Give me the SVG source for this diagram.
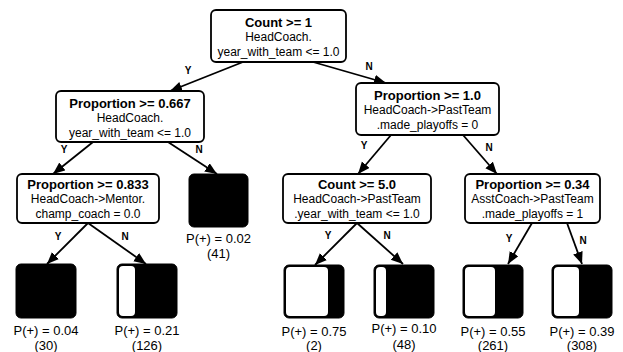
<svg xmlns="http://www.w3.org/2000/svg" width="623" height="352" viewBox="0 0 623 352">
<defs>
<style>
.box{fill:#fff;stroke:#000;stroke-width:1.8}
.b{font-family:"Liberation Sans",Arial,sans-serif;font-size:13px;font-weight:bold;text-anchor:middle;fill:#000}
.t{font-family:"Liberation Sans",Arial,sans-serif;font-size:12px;text-anchor:middle;fill:#000}
.p{font-family:"Liberation Sans",Arial,sans-serif;font-size:13px;text-anchor:middle;fill:#000}
.yn{font-family:"Liberation Sans",Arial,sans-serif;font-size:10px;font-weight:bold;text-anchor:middle;fill:#000}
.e{stroke:#000;stroke-width:1.8;fill:none;marker-end:url(#ah)}
.blk{fill:#000;stroke:#000;stroke-width:1}
.wht{fill:#fff}
</style>
<marker id="ah" markerUnits="userSpaceOnUse" markerWidth="14" markerHeight="12" refX="12" refY="5" orient="auto">
<path d="M0,0 L12,5 L0,10 Z" fill="#000"/>
</marker>
</defs>
<g id="connectors">
<path class="e" d="M243,62 L170,91"/>
<path class="e" d="M313,62 L386,83"/>
<path class="e" d="M93,142 L53,174"/>
<path class="e" d="M168,142 L217,174"/>
<path class="e" d="M391,135 L358,174"/>
<path class="e" d="M463,135 L497,174"/>
<path class="e" d="M88,223 L47,264"/>
<path class="e" d="M88,223 L146,264"/>
<path class="e" d="M357,223 L315,265"/>
<path class="e" d="M357,223 L403,264"/>
<path class="e" d="M532,223 L508,264"/>
<path class="e" d="M567,223 L582,264"/>
<text class="yn" x="188" y="74">Y</text>
<text class="yn" x="369" y="70">N</text>
<text class="yn" x="64" y="152.5">Y</text>
<text class="yn" x="199" y="152.5">N</text>
<text class="yn" x="364" y="149">Y</text>
<text class="yn" x="489" y="150.5">N</text>
<text class="yn" x="58" y="239.5">Y</text>
<text class="yn" x="125" y="239.5">N</text>
<text class="yn" x="328" y="238.5">Y</text>
<text class="yn" x="387" y="238.5">N</text>
<text class="yn" x="509" y="242">Y</text>
<text class="yn" x="583" y="244">N</text>
</g>
<g id="root">
<rect class="box" x="211" y="10" width="135" height="52" rx="5"/>
<text class="b" x="278.5" y="26.5">Count &gt;= 1</text>
<text class="t" x="278.5" y="41">HeadCoach.</text>
<text class="t" x="278.5" y="55.5">year_with_team &lt;= 1.0</text>
</g>
<g id="n_prop0667">
<rect class="box" x="56" y="91" width="148" height="51" rx="5"/>
<text class="b" x="130" y="107.5">Proportion &gt;= 0.667</text>
<text class="t" x="130" y="122">HeadCoach.</text>
<text class="t" x="130" y="136.5">year_with_team &lt;= 1.0</text>
</g>
<g id="n_prop10">
<rect class="box" x="356" y="83" width="143" height="52" rx="5"/>
<text class="b" x="427.5" y="99.5">Proportion &gt;= 1.0</text>
<text class="t" x="427.5" y="114">HeadCoach-&gt;PastTeam</text>
<text class="t" x="427.5" y="128.5">.made_playoffs = 0</text>
</g>
<g id="n_prop0833">
<rect class="box" x="17" y="174" width="142" height="49" rx="5"/>
<text class="b" x="88" y="188.5">Proportion &gt;= 0.833</text>
<text class="t" x="88" y="203">HeadCoach-&gt;Mentor.</text>
<text class="t" x="88" y="217.5">champ_coach = 0.0</text>
</g>
<g id="n_count5">
<rect class="box" x="283" y="174" width="148" height="49" rx="5"/>
<text class="b" x="357" y="188.5">Count &gt;= 5.0</text>
<text class="t" x="357" y="203">HeadCoach-&gt;PastTeam</text>
<text class="t" x="357" y="217.5">.year_with_team &lt;= 1.0</text>
</g>
<g id="n_prop034">
<rect class="box" x="465" y="174" width="135" height="49" rx="5"/>
<text class="b" x="532.5" y="188.5">Proportion &gt;= 0.34</text>
<text class="t" x="532.5" y="203">AsstCoach-&gt;PastTeam</text>
<text class="t" x="532.5" y="217.5">.made_playoffs = 1</text>
</g>
<g id="leaf_002">
<rect class="blk" x="189" y="174" width="59" height="53" rx="5"/>
<text class="p" x="218.5" y="243">P(+) = 0.02</text>
<text class="p" x="218.5" y="258">(41)</text>
</g>
<g id="leaf_004">
<rect class="blk" x="16" y="264" width="60" height="54" rx="5"/>
<text class="p" x="46" y="335">P(+) = 0.04</text>
<text class="p" x="46" y="349.5">(30)</text>
</g>
<g id="leaf_021">
<rect class="blk" x="117" y="264" width="60" height="54" rx="5"/>
<rect class="wht" x="119" y="266" width="16" height="50" rx="4"/>
<text class="p" x="147" y="335">P(+) = 0.21</text>
<text class="p" x="147" y="349.5">(126)</text>
</g>
<g id="leaf_075">
<rect class="blk" x="284" y="265" width="60" height="53" rx="5"/>
<rect class="wht" x="286" y="267" width="42" height="49" rx="4"/>
<text class="p" x="314" y="336">P(+) = 0.75</text>
<text class="p" x="314" y="350">(2)</text>
</g>
<g id="leaf_010">
<rect class="blk" x="374" y="265" width="60" height="53" rx="5"/>
<rect class="wht" x="376" y="267" width="10" height="49" rx="4"/>
<text class="p" x="404" y="333">P(+) = 0.10</text>
<text class="p" x="404" y="348.5">(48)</text>
</g>
<g id="leaf_055">
<rect class="blk" x="463" y="265" width="60" height="53" rx="5"/>
<rect class="wht" x="465" y="267" width="30" height="49" rx="4"/>
<text class="p" x="493" y="336">P(+) = 0.55</text>
<text class="p" x="493" y="350">(261)</text>
</g>
<g id="leaf_039">
<rect class="blk" x="552" y="265" width="60" height="53" rx="5"/>
<rect class="wht" x="554" y="267" width="25" height="49" rx="4"/>
<text class="p" x="582" y="336">P(+) = 0.39</text>
<text class="p" x="582" y="350">(308)</text>
</g>
</svg>
